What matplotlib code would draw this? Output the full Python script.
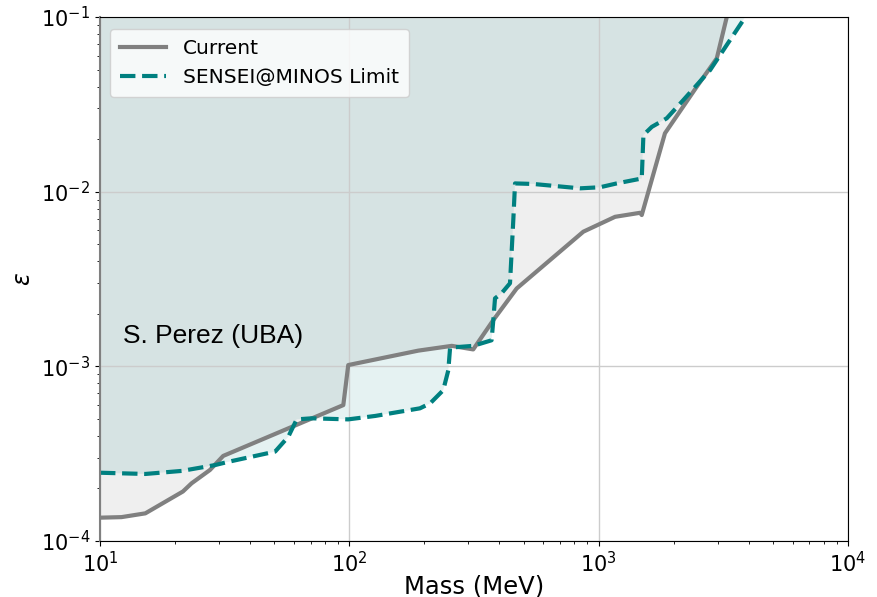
import numpy as np
import matplotlib
matplotlib.use('Agg')
import matplotlib.pyplot as plt

# current exclusion boundary (mass in MeV, epsilon)
current_mass = [10, 12.2, 15.2, 21.5, 23.3, 27.6, 31.2, 94.6, 99, 189, 257.6, 314,
                378, 469, 868, 1164, 1466, 1489, 1845, 2472, 2977, 3265, 3400]
current_eps = [1.36e-4, 1.37e-4, 1.44e-4, 1.92e-4, 2.14e-4, 2.55e-4, 3.07e-4, 6.0e-4,
               1.017e-3, 1.23e-3, 1.31e-3, 1.25e-3, 1.84e-3, 2.79e-3, 5.9e-3, 7.18e-3,
               7.57e-3, 7.35e-3, 2.16e-2, 3.98e-2, 5.8e-2, 1.0e-1, 1.2e-1]

# projected SENSEI@MINOS limit
sensei_mass = [10, 15.2, 21.3, 28.9, 32.7, 50.4, 56.9, 61.5, 70.6, 99, 127, 192, 211,
               238, 249.5, 253.6, 314, 372, 378, 384, 408, 441, 455, 462, 547, 842,
               1013, 1182, 1489, 1512, 1634, 1875, 2188, 2800, 2977, 3802, 4100]
sensei_eps = [2.46e-4, 2.42e-4, 2.52e-4, 2.72e-4, 2.84e-4, 3.25e-4, 3.95e-4, 4.97e-4,
              5.04e-4, 4.97e-4, 5.2e-4, 5.75e-4, 6.14e-4, 7.3e-4, 9.5e-4, 1.28e-3,
              1.31e-3, 1.41e-3, 1.84e-3, 2.45e-3, 2.62e-3, 2.99e-3, 7.03e-3, 1.115e-2,
              1.107e-2, 1.045e-2, 1.06e-2, 1.115e-2, 1.19e-2, 2.11e-2, 2.35e-2, 2.63e-2,
              3.35e-2, 4.97e-2, 5.67e-2, 9.6e-2, 1.15e-1]

fig = plt.figure(figsize=(8.78, 5.97), dpi=100)
ax = fig.add_axes([0.1139, 0.0938, 0.8519, 0.8777])

ax.fill_between(current_mass, current_eps, 1, color='gray', alpha=0.12, linewidth=0)
ax.fill_between(sensei_mass, sensei_eps, 1, color='teal', alpha=0.1, linewidth=0)
ax.plot(current_mass, current_eps, color='gray', lw=3, label='Current')
ax.plot(sensei_mass, sensei_eps, color='teal', lw=3, ls='--', label='SENSEI@MINOS Limit')

ax.set_xscale('log')
ax.set_yscale('log')
ax.set_xlim(10, 1e4)
ax.set_ylim(1e-4, 1e-1)
ax.grid(True, which='major', color='#cccccc', lw=1)
ax.spines['left'].set_color('gray')
ax.spines['left'].set_linewidth(1.5)

ax.tick_params(axis='both', labelsize=15)

ax.set_xlabel('Mass (MeV)', fontsize=17.5, labelpad=-1)
ax.set_ylabel(r'$\varepsilon$', fontsize=17)

ax.text(12.37, 1.36e-3, 'S. Perez (UBA)', fontsize=19, family='Liberation Sans')

ax.legend(loc='upper left', fontsize=14.5, handlelength=2.3,
          borderpad=0.5, bbox_to_anchor=(0.0, 0.997))

fig.savefig('out.png', dpi=100)
